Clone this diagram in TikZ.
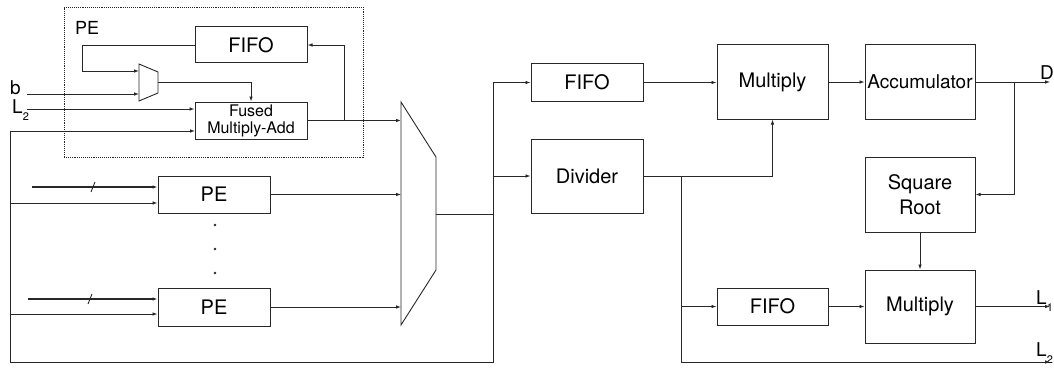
\documentclass[tikz,border=0pt]{standalone}
\usepackage{fontspec}
\setmainfont{TeX Gyre Heros}
\usetikzlibrary{arrows.meta,positioning,calc}
\definecolor{wireDark}{RGB}{40,40,40}
\newcommand{\sigsub}[2]{#1\raisebox{-0.8ex}{\fontsize{11}{11}\selectfont #2}}

\begin{document}
\begin{tikzpicture}[x=1pt, y=-1pt,
    blk/.style={rectangle, draw=wireDark, line width=1pt, fill=white,
                inner sep=0pt, font=\fontsize{20}{25}\selectfont},
    arr/.style={-{Latex[length=5pt,width=3.6pt]}, wireDark, line width=0.9pt},
    wire/.style={wireDark, line width=0.9pt},
    lbl/.style={inner sep=0pt, font=\fontsize{19}{20}\selectfont}
  ]
  \useasboundingbox (0,0) rectangle (1054,369);

  % processing element (detail)
  \node[draw=wireDark, densely dotted, line width=0.9pt, inner sep=0pt,
        minimum width=299pt, minimum height=150pt] (pegrp) at (213.5,82) {};
  \node[lbl, anchor=north west, font=\fontsize{18}{18}\selectfont] (pelbl) at (75,21) {PE};
  \node[blk, minimum width=112pt, minimum height=36pt] (pefifo) at (251,45) {FIFO};
  \node[blk, minimum width=112pt, minimum height=37pt, align=center,
        font=\fontsize{16}{17}\selectfont] (fma) at (251,120.5) {Fused\\Multiply-Add};

  \draw[wire] (139,64) -- (158,72) -- (158,93) -- (139,101) -- cycle;
  \coordinate (smux-a) at (139,71);
  \coordinate (smux-b) at (139,94);
  \coordinate (smux-o) at (158,82);

  \node[lbl, anchor=base west] (blbl) at (10,94) {b};
  \node[lbl, anchor=base west] (l2in) at (12,113) {\sigsub{L}{2}};
  \coordinate (b-in) at (27,94);
  \coordinate (l2-in) at (27,109);

  % PE array
  \node[blk, minimum width=112pt, minimum height=37pt] (pe1) at (214,194.5) {PE};
  \node[blk, minimum width=112pt, minimum height=38pt] (pe2) at (214,307) {PE};
  \foreach \y in {225,249,273}
    \fill[wireDark] (215,\y) circle (1.3pt);

  % selector
  \draw[wire] (401,102) -- (436,157) -- (436,270) -- (401,325) -- cycle;
  \coordinate (bmux-a) at (401,119);
  \coordinate (bmux-o) at (436,214);

  % datapath
  \node[blk, minimum width=112pt, minimum height=37pt] (fifoa) at (587,82.5) {FIFO};
  \node[blk, minimum width=112pt, minimum height=74pt] (divider) at (587,176) {Divider};
  \node[blk, minimum width=111pt, minimum height=74pt] (mula) at (772.5,82) {Multiply};
  \node[blk, minimum width=110pt, minimum height=74pt, font=\fontsize{19}{25}\selectfont] (acc) at (920,82) {Accumulator};
  \node[blk, minimum width=110pt, minimum height=75pt, align=center] (sqroot) at (920,194.5) {Square\\Root};
  \node[blk, minimum width=111pt, minimum height=37pt] (fifob) at (772.5,306.5) {FIFO};
  \node[blk, minimum width=110pt, minimum height=73pt] (mulb) at (920,306.5) {Multiply};

  \node[lbl, anchor=base west] (dlbl) at (1040,79) {D};
  \node[lbl, anchor=base west] (l1out) at (1036,304) {\sigsub{L}{1}};
  \node[lbl, anchor=base west] (l2out) at (1036,356) {\sigsub{L}{2}};

  \coordinate (bus) at (493,214);
  \coordinate (fb-r) at (493,362);
  \coordinate (fb-l) at (10,362);
  \coordinate (fma-c) at (195,131);
  \coordinate (pe1-c) at (10,203);
  \coordinate (pe2-c) at (10,314);
  \coordinate (pe1-in) at (32,187);
  \coordinate (pe2-in) at (28,299);
  \coordinate (fbk) at (344,120.5);
  \coordinate (div-br) at (681,176);
  \coordinate (l2-end) at (1050,362);
  \coordinate (acc-br) at (1014,82);

  % inside PE
  \draw[arr] (pefifo.west) -- ++(-112,0) |- (smux-a);
  \draw[arr] (b-in) -- (smux-b);
  \draw[arr] (smux-o) -| (fma.north);
  \draw[arr] (l2-in) -- (l2-in -| fma.west);
  \draw[arr, line width=1.6pt] (fma.east) -- (fma.east -| bmux-a);
  \draw[arr] (fbk) |- (pefifo.east);

  % PE inputs and outputs
  \draw[arr, line width=2pt] (pe1-in) -- (pe1-in -| pe1.west);
  \draw[wire] (91,192) -- (95,182);
  \draw[arr, line width=2pt] (pe2-in) -- (pe2-in -| pe2.west);
  \draw[wire] (88,304) -- (92,294);
  \draw[arr] (pe1-c) -- (pe1-c -| pe1.west);
  \draw[arr] (pe2-c) -- (pe2-c -| pe2.west);
  \draw[arr] (pe1.east) -- (pe1.east -| bmux-a);
  \draw[arr] (pe2.east) -- (pe2.east -| bmux-a);

  % feedback bus
  \draw[wire] (bmux-o) -- (bus);
  \draw[arr] (bus) |- (fifoa.west);
  \draw[arr] (bus) |- (divider.west);
  \draw[arr] (bus) -- (fb-r) -- (fb-l) |- (fma-c);

  % norm datapath
  \draw[arr] (fifoa.east) -- (fifoa.east -| mula.west);
  \draw[arr] (divider.east) -| (mula.south);
  \draw[arr] (div-br) |- (l2-end);
  \draw[arr] (div-br |- fifob.west) -- (fifob.west);
  \draw[arr] (fifob.east) -- (mulb.west);
  \draw[arr] (mula.east) -- (acc.west);
  \draw[arr] (acc.east) -- (1050,82);
  \draw[arr] (acc-br) |- (sqroot.east);
  \draw[arr] (sqroot.south) -- (mulb.north);
  \draw[arr] (mulb.east) -- (1050,306.5);
\end{tikzpicture}
\end{document}
